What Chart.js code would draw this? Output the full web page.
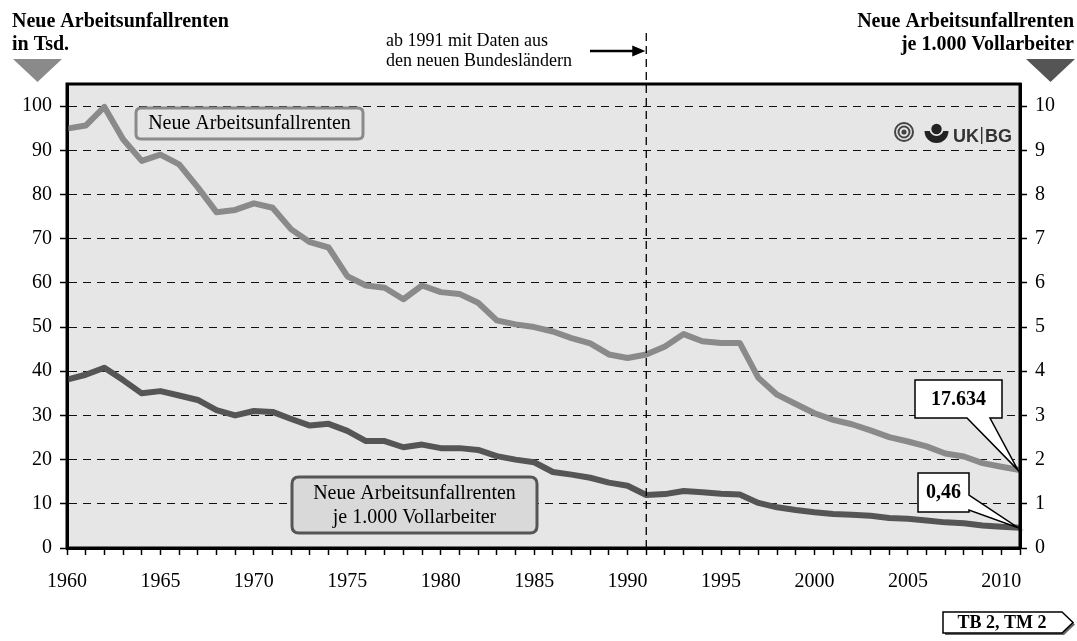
<!DOCTYPE html>
<html>
<head>
<meta charset="utf-8">
<script src="https://cdn.jsdelivr.net/npm/chart.js@4.4.1/dist/chart.umd.min.js"></script>
<style>
  body { margin: 0; background: #fff; }
  #wrap { width: 1077px; height: 641px; }
</style>
</head>
<body>
<div id="wrap"><canvas id="unfallrenten" width="1077" height="641"></canvas></div>
<script>
// Jahre (Kategorien)
const years = ['1960', '1961', '1962', '1963', '1964', '1965', '1966', '1967', '1968', '1969',
  '1970', '1971', '1972', '1973', '1974', '1975', '1976', '1977', '1978', '1979',
  '1980', '1981', '1982', '1983', '1984', '1985', '1986', '1987', '1988', '1989',
  '1990', '1991', '1992', '1993', '1994', '1995', '1996', '1997', '1998', '1999',
  '2000', '2001', '2002', '2003', '2004', '2005', '2006', '2007', '2008', '2009',
  '2010', '2011'];

// Neue Arbeitsunfallrenten in Tsd. (linke Achse)
const rentenTsd = [94.9, 95.6, 99.8, 92.5, 87.6, 89.0, 86.8, 81.6, 76.0, 76.5,
  78.0, 77.0, 72.1, 69.2, 68.0, 61.5, 59.4, 58.9, 56.3, 59.4,
  57.9, 57.5, 55.5, 51.5, 50.6, 50.0, 49.0, 47.5, 46.3, 43.8,
  43.0, 43.8, 45.6, 48.4, 46.8, 46.4, 46.4, 38.5, 34.7, 32.6,
  30.5, 29.0, 28.0, 26.6, 25.1, 24.1, 23.0, 21.4, 20.7, 19.2,
  18.4, 17.634];

// Neue Arbeitsunfallrenten je 1.000 Vollarbeiter (rechte Achse)
const rentenJe1000 = [3.81, 3.92, 4.08, 3.8, 3.5, 3.55, 3.45, 3.35, 3.12, 3.0,
  3.1, 3.08, 2.92, 2.77, 2.81, 2.65, 2.42, 2.42, 2.28, 2.34,
  2.26, 2.26, 2.22, 2.08, 2.0, 1.94, 1.72, 1.66, 1.59, 1.48,
  1.41, 1.2, 1.22, 1.29, 1.26, 1.23, 1.21, 1.02, 0.92, 0.86,
  0.81, 0.77, 0.75, 0.73, 0.68, 0.66, 0.62, 0.58, 0.56, 0.51,
  0.48, 0.46];

// Achsenbeschriftungen
const labeledYears = ['1960', '1965', '1970', '1975', '1980', '1985', '1990', '1995', '2000', '2005', '2010'];
const leftTicks = [0, 10, 20, 30, 40, 50, 60, 70, 80, 90, 100];
const rightTicks = [0, 1, 2, 3, 4, 5, 6, 7, 8, 9, 10];

const serif = "'Liberation Serif', 'Times New Roman', serif";
const sans = "'Liberation Sans', Arial, sans-serif";

function roundRect(ctx, x, y, w, h, r) {
  ctx.beginPath();
  ctx.moveTo(x + r, y);
  ctx.lineTo(x + w - r, y);
  ctx.quadraticCurveTo(x + w, y, x + w, y + r);
  ctx.lineTo(x + w, y + h - r);
  ctx.quadraticCurveTo(x + w, y + h, x + w - r, y + h);
  ctx.lineTo(x + r, y + h);
  ctx.quadraticCurveTo(x, y + h, x, y + h - r);
  ctx.lineTo(x, y + r);
  ctx.quadraticCurveTo(x, y, x + r, y);
  ctx.closePath();
}

function polygon(ctx, pts) {
  ctx.beginPath();
  ctx.moveTo(pts[0][0], pts[0][1]);
  for (let i = 1; i < pts.length; i++) ctx.lineTo(pts[i][0], pts[i][1]);
  ctx.closePath();
}

// Hintergrund, Rahmen, Beschriftungen
const extras = {
  id: 'extras',
  beforeDraw(chart) {
    const { ctx, chartArea: a } = chart;
    ctx.save();
    ctx.fillStyle = '#e6e6e6';
    ctx.fillRect(a.left, a.top, a.right - a.left, a.bottom - a.top);
    ctx.restore();
  },
  afterDatasetsDraw(chart) {
    const { ctx, chartArea: a, scales } = chart;
    const xs = scales.x, yl = scales.y, yr = scales.y1;
    ctx.save();

    // Rahmen
    ctx.strokeStyle = '#000';
    ctx.lineWidth = 3;
    ctx.strokeRect(a.left, a.top, a.right - a.left, a.bottom - a.top);

    // 1991 Linie
    const x91 = xs.getPixelForValue(years.indexOf('1991'));
    ctx.lineWidth = 1.3;
    ctx.setLineDash([8, 5]);
    ctx.beginPath();
    ctx.moveTo(x91, 33);
    ctx.lineTo(x91, a.bottom);
    ctx.stroke();
    ctx.setLineDash([]);

    // Pfeil + Hinweis
    ctx.lineWidth = 2.5;
    ctx.beginPath();
    ctx.moveTo(590, 51);
    ctx.lineTo(x91 - 10, 51);
    ctx.stroke();
    ctx.fillStyle = '#000';
    polygon(ctx, [[x91 - 1, 51], [x91 - 14, 45.5], [x91 - 14, 56.5]]);
    ctx.fill();
    ctx.font = '18px ' + serif;
    ctx.textAlign = 'left';
    ctx.textBaseline = 'alphabetic';
    ctx.fillText('ab 1991 mit Daten aus', 386, 46);
    ctx.fillText('den neuen Bundesländern', 386, 66);

    // Achsentitel
    ctx.font = 'bold 20px ' + serif;
    ctx.fillText('Neue Arbeitsunfallrenten', 12, 27);
    ctx.fillText('in Tsd.', 12, 50);
    ctx.textAlign = 'right';
    ctx.fillText('Neue Arbeitsunfallrenten', 1074, 27);
    ctx.fillText('je 1.000 Vollarbeiter', 1074, 50);
    ctx.fillStyle = '#8a8a8a';
    polygon(ctx, [[13, 59], [62, 59], [37.5, 82]]);
    ctx.fill();
    ctx.fillStyle = '#555';
    polygon(ctx, [[1026, 59], [1075, 59], [1050.5, 82]]);
    ctx.fill();

    // Legendenkasten 1
    roundRect(ctx, 136, 108, 227, 31, 5);
    ctx.fillStyle = '#e6e6e6';
    ctx.fill();
    ctx.lineWidth = 3;
    ctx.strokeStyle = '#8a8a8a';
    ctx.stroke();
    ctx.fillStyle = '#000';
    ctx.font = '20px ' + serif;
    ctx.textAlign = 'center';
    ctx.textBaseline = 'middle';
    ctx.fillText('Neue Arbeitsunfallrenten', 249.5, 124);

    // Legendenkasten 2
    roundRect(ctx, 292, 477, 245, 56, 7);
    ctx.fillStyle = '#d9d9d9';
    ctx.fill();
    ctx.strokeStyle = '#555';
    ctx.stroke();
    ctx.fillStyle = '#000';
    ctx.fillText('Neue Arbeitsunfallrenten', 414.5, 494);
    ctx.fillText('je 1.000 Vollarbeiter', 414.5, 518);

    // Callouts an den Endwerten
    const last = years.length - 1;
    const xe = xs.getPixelForValue(last) - 2;
    const yT = yl.getPixelForValue(rentenTsd[last]);
    const yR = yr.getPixelForValue(rentenJe1000[last]);
    ctx.lineWidth = 1.5;
    ctx.strokeStyle = '#000';
    ctx.fillStyle = '#fff';
    polygon(ctx, [[915, 380], [1002, 380], [1002, 418], [990, 418], [xe, yT], [967, 418], [915, 418]]);
    ctx.fill();
    ctx.stroke();
    polygon(ctx, [[918, 473], [969, 473], [969, 495], [xe, yR], [969, 510], [969, 512], [918, 512]]);
    ctx.fill();
    ctx.stroke();
    ctx.fillStyle = '#000';
    ctx.font = 'bold 20px ' + serif;
    ctx.fillText('17.634', 958.5, 400);
    ctx.fillText('0,46', 943.5, 493);

    // Logo
    ctx.strokeStyle = '#444';
    ctx.fillStyle = '#444';
    ctx.lineWidth = 2;
    ctx.beginPath(); ctx.arc(904, 132, 9, 0, Math.PI * 2); ctx.stroke();
    ctx.beginPath(); ctx.arc(904, 132, 5.5, 0, Math.PI * 2); ctx.stroke();
    ctx.beginPath(); ctx.arc(904, 132, 2.6, 0, Math.PI * 2); ctx.fill();
    ctx.fillStyle = '#222';
    ctx.beginPath(); ctx.arc(936.5, 131, 12, 0, Math.PI); ctx.closePath(); ctx.fill();
    ctx.fillStyle = '#e6e6e6';
    ctx.beginPath(); ctx.arc(936.5, 129, 7, 0, Math.PI * 2); ctx.fill();
    ctx.fillStyle = '#222';
    ctx.beginPath(); ctx.arc(936.5, 129, 5.2, 0, Math.PI * 2); ctx.fill();
    ctx.fillStyle = '#333';
    ctx.font = 'bold 18px ' + sans;
    ctx.textAlign = 'left';
    ctx.textBaseline = 'alphabetic';
    ctx.fillText('UK', 953, 142);
    const wUK = ctx.measureText('UK').width;
    ctx.fillRect(953 + wUK + 2, 127, 1.4, 17);
    ctx.fillText('BG', 953 + wUK + 6, 142);

    // TB-Kennung
    ctx.shadowColor = 'rgba(0,0,0,0.6)';
    ctx.shadowOffsetX = 2;
    ctx.shadowOffsetY = 2;
    ctx.fillStyle = '#fff';
    polygon(ctx, [[943, 612], [1062, 612], [1073, 622.5], [1062, 633], [943, 633]]);
    ctx.fill();
    ctx.shadowColor = 'transparent';
    ctx.strokeStyle = '#000';
    ctx.lineWidth = 1.5;
    ctx.stroke();
    ctx.fillStyle = '#000';
    ctx.font = 'bold 18px ' + serif;
    ctx.textAlign = 'center';
    ctx.textBaseline = 'middle';
    ctx.fillText('TB 2, TM 2', 1002, 623);

    ctx.restore();
  }
};

new Chart(document.getElementById('unfallrenten'), {
  type: 'line',
  data: {
    labels: years,
    datasets: [
      {
        label: 'Neue Arbeitsunfallrenten je 1.000 Vollarbeiter',
        data: rentenJe1000,
        yAxisID: 'y1',
        borderColor: '#555555',
        borderWidth: 6,
        pointRadius: 0,
        tension: 0,
        borderJoinStyle: 'round'
      },
      {
        label: 'Neue Arbeitsunfallrenten',
        data: rentenTsd,
        yAxisID: 'y',
        borderColor: '#8a8a8a',
        borderWidth: 6,
        pointRadius: 0,
        tension: 0,
        borderJoinStyle: 'round'
      }
    ]
  },
  options: {
    responsive: false,
    animation: false,
    layout: { padding: { top: 84, left: 0, right: 0, bottom: 0 } },
    plugins: {
      legend: { display: false },
      tooltip: { enabled: false }
    },
    scales: {
      x: {
        offset: false,
        grid: { drawOnChartArea: false, drawTicks: true, tickLength: 7, tickColor: '#000', tickWidth: 1.5 },
        border: { display: true, color: '#000', width: 3 },
        ticks: {
          autoSkip: false,
          maxRotation: 0,
          padding: 15,
          color: '#000',
          font: { family: serif, size: 20 },
          callback(v, i) {
            const yr = years[i];
            return labeledYears.includes(yr) ? yr : '';
          }
        },
        afterFit(s) { s.height = 93; }
      },
      y: {
        position: 'left',
        min: 0,
        max: 105,
        grid: { color: '#111', lineWidth: 1, drawTicks: true, tickLength: 7, tickColor: '#000', tickWidth: 1.5, tickBorderDash: [] },
        border: { display: true, color: '#000', width: 3, dash: [8, 6] },
        ticks: { padding: 8, color: '#000', font: { family: serif, size: 20 } },
        afterBuildTicks(s) { s.ticks = leftTicks.map(v => ({ value: v })); },
        afterFit(s) { s.width = 67; }
      },
      y1: {
        position: 'right',
        min: 0,
        max: 10.5,
        grid: { drawOnChartArea: false, drawTicks: true, tickLength: 7, tickColor: '#000', tickWidth: 1.5 },
        border: { display: true, color: '#000', width: 3 },
        ticks: { padding: 8, color: '#000', font: { family: serif, size: 20 } },
        afterBuildTicks(s) { s.ticks = rightTicks.map(v => ({ value: v })); },
        afterFit(s) { s.width = 57; }
      }
    }
  },
  plugins: [extras]
});
</script>
</body>
</html>
